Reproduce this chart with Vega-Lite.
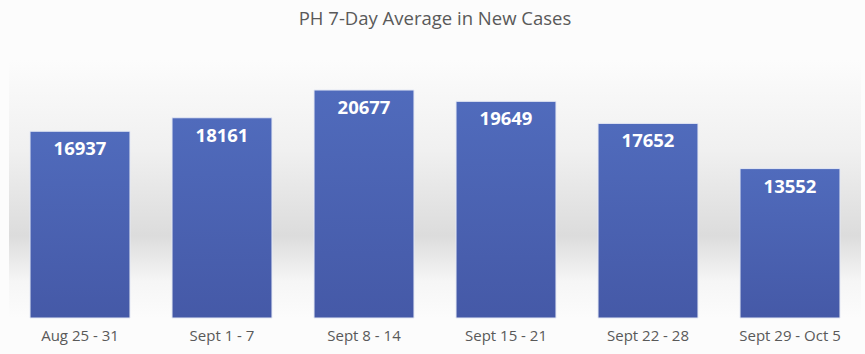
{
  "$schema": "https://vega.github.io/schema/vega-lite/v6.json",
  "width": 852,
  "height": 258,
  "autosize": "none",
  "padding": {"left": 9, "top": 60, "right": 4, "bottom": 36},
  "background": "#fcfcfc",
  "title": {
    "text": "PH 7-Day Average in New Cases",
    "font": "Open Sans",
    "fontSize": 18.5,
    "fontWeight": "normal",
    "color": "#595959",
    "anchor": "middle",
    "offset": 32
  },
  "data": {
    "values": [
      {"week": "Aug 25 - 31", "cases": 16937},
      {"week": "Sept 1 - 7", "cases": 18161},
      {"week": "Sept 8 - 14", "cases": 20677},
      {"week": "Sept 15 - 21", "cases": 19649},
      {"week": "Sept 22 - 28", "cases": 17652},
      {"week": "Sept 29 - Oct 5", "cases": 13552}
    ]
  },
  "encoding": {
    "x": {
      "field": "week",
      "type": "nominal",
      "sort": null,
      "scale": {"paddingInner": 0.296, "paddingOuter": 0.148},
      "axis": {
        "title": null,
        "labelAngle": 0,
        "domain": false,
        "ticks": false,
        "labelFont": "Open Sans",
        "labelFontSize": 15,
        "labelColor": "#595959",
        "labelPadding": 10
      }
    },
    "y": {
      "field": "cases",
      "type": "quantitative",
      "scale": {"domain": [0, 23400]},
      "axis": null
    }
  },
  "layer": [
    {
      "mark": {
        "type": "bar",
        "color": {
          "gradient": "linear",
          "x1": 0, "y1": 0, "x2": 0, "y2": 1,
          "stops": [
            {"offset": 0, "color": "#506bbc"},
            {"offset": 1, "color": "#4559a7"}
          ]
        },
        "stroke": "#e4e8f4",
        "strokeWidth": 1
      }
    },
    {
      "mark": {
        "type": "text",
        "baseline": "top",
        "dy": 9,
        "font": "Open Sans",
        "fontSize": 18.5,
        "fontWeight": "bold",
        "color": "#ffffff"
      },
      "encoding": {"text": {"field": "cases", "type": "quantitative", "format": "d"}}
    }
  ],
  "config": {
    "view": {
      "stroke": null,
      "fill": {
        "gradient": "linear",
        "x1": 0, "y1": 0, "x2": 0, "y2": 1,
        "stops": [
          {"offset": 0, "color": "#fcfcfc"},
          {"offset": 0.35, "color": "#f0f0f0"},
          {"offset": 0.68, "color": "#dcdcdc"},
          {"offset": 0.86, "color": "#f6f6f6"},
          {"offset": 1, "color": "#fcfcfc"}
        ]
      }
    }
  }
}
